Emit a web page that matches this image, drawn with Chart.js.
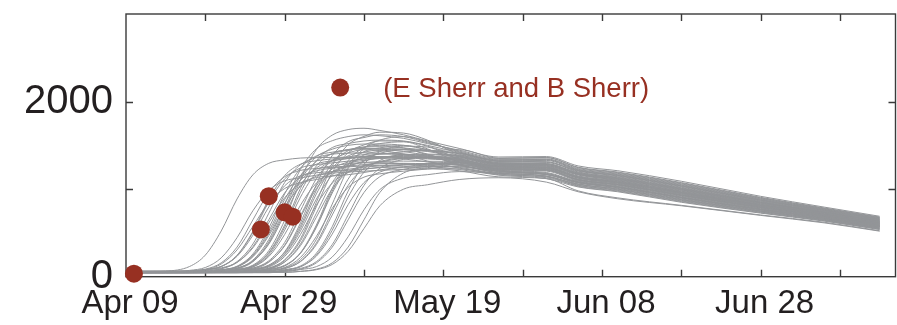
<!DOCTYPE html>
<html>
<head>
<meta charset="utf-8">
<script src="https://cdn.jsdelivr.net/npm/chart.js@4.4.1/dist/chart.umd.min.js"></script>
<style>
  html, body { margin: 0; padding: 0; background: #fff; }
  canvas { display: block; }
</style>
</head>
<body>
<canvas id="chart" width="897" height="325"></canvas>
<script>
// x = days since Apr 09
const DAYS = [0, 5, 8, 10, 12, 14, 16, 18, 20, 22, 24, 26, 28, 30, 32, 35, 38, 42, 47, 53, 57, 62, 70, 80, 88, 95];

// model ensemble runs (grey), one value per entry of DAYS
const RUNS = [
  [50, 63, 116, 247, 522, 888, 1164, 1295, 1334, 1355, 1360, 1362, 1365, 1370, 1372, 1372, 1370, 1360, 1276, 1266, 1160, 1105, 985, 834, 725, 624],
  [50, 50, 72, 105, 215, 446, 754, 985, 1095, 1128, 1160, 1200, 1260, 1320, 1360, 1380, 1360, 1330, 1255, 1245, 1130, 1075, 955, 810, 705, 605],
  [45, 48, 62, 86, 158, 338, 650, 962, 1142, 1214, 1236, 1250, 1265, 1280, 1290, 1295, 1290, 1285, 1211, 1180, 1085, 1030, 910, 774, 675, 576],
  [55, 55, 55, 80, 117, 242, 505, 855, 1117, 1242, 1280, 1300, 1320, 1345, 1365, 1385, 1392, 1390, 1302, 1292, 1190, 1135, 1015, 858, 745, 643],
  [60, 62, 64, 83, 118, 233, 474, 796, 1038, 1153, 1187, 1200, 1215, 1230, 1245, 1255, 1258, 1255, 1185, 1150, 1055, 1000, 880, 750, 655, 557],
  [50, 50, 52, 64, 91, 172, 374, 725, 1076, 1279, 1360, 1400, 1410, 1415, 1410, 1400, 1380, 1345, 1263, 1253, 1145, 1090, 970, 822, 715, 614],
  [65, 66, 68, 81, 101, 164, 329, 615, 901, 1066, 1132, 1150, 1165, 1190, 1220, 1255, 1285, 1300, 1224, 1214, 1100, 1045, 925, 786, 685, 586],
  [50, 50, 50, 52, 78, 120, 260, 554, 946, 1240, 1380, 1422, 1450, 1465, 1465, 1455, 1435, 1405, 1315, 1305, 1205, 1150, 1030, 870, 755, 652],
  [40, 42, 45, 50, 75, 112, 237, 490, 840, 1102, 1227, 1265, 1290, 1305, 1315, 1320, 1318, 1315, 1237, 1227, 1115, 1060, 940, 798, 695, 595],
  [55, 55, 55, 55, 70, 94, 180, 398, 780, 1152, 1370, 1456, 1500, 1515, 1515, 1500, 1450, 1375, 1289, 1279, 1175, 1120, 1000, 846, 735, 633],
  [60, 60, 60, 61, 73, 99, 177, 372, 710, 1048, 1243, 1321, 1350, 1360, 1360, 1345, 1310, 1270, 1198, 1165, 1070, 1015, 895, 762, 665, 567],
  [50, 50, 50, 50, 52, 80, 125, 275, 590, 1010, 1325, 1475, 1520, 1550, 1560, 1550, 1500, 1420, 1328, 1334, 1220, 1165, 1045, 882, 765, 662],
  [45, 45, 45, 46, 49, 72, 113, 248, 531, 909, 1193, 1328, 1368, 1395, 1405, 1400, 1375, 1330, 1250, 1240, 1130, 1075, 955, 810, 705, 605],
  [50, 50, 50, 50, 52, 83, 132, 297, 644, 1106, 1452, 1617, 1680, 1695, 1670, 1620, 1550, 1465, 1367, 1372, 1265, 1210, 1090, 918, 795, 690],
  [55, 55, 55, 55, 55, 69, 97, 181, 391, 755, 1119, 1329, 1413, 1450, 1440, 1400, 1320, 1240, 1172, 1130, 1040, 985, 865, 738, 645, 548],
  [48, 48, 48, 48, 50, 61, 87, 165, 360, 698, 1036, 1231, 1309, 1345, 1355, 1360, 1362, 1366, 1282, 1270, 1168, 1112, 992, 840, 730, 628],
  [50, 50, 50, 50, 50, 52, 81, 128, 285, 615, 1055, 1384, 1541, 1589, 1620, 1600, 1530, 1435, 1341, 1345, 1235, 1180, 1060, 894, 775, 672],
  [60, 60, 60, 60, 60, 61, 89, 133, 278, 582, 988, 1293, 1438, 1481, 1500, 1470, 1390, 1280, 1206, 1170, 1078, 1024, 904, 768, 670, 572],
  [50, 50, 50, 50, 50, 50, 65, 95, 185, 410, 800, 1190, 1415, 1505, 1550, 1545, 1490, 1384, 1296, 1286, 1184, 1128, 1008, 852, 740, 638],
  [45, 45, 45, 45, 45, 46, 59, 86, 168, 374, 725, 1076, 1279, 1360, 1400, 1395, 1360, 1310, 1232, 1222, 1110, 1054, 934, 794, 691, 591],
  [55, 55, 55, 55, 55, 56, 67, 92, 168, 355, 680, 1005, 1193, 1268, 1300, 1290, 1260, 1225, 1159, 1120, 1025, 970, 850, 726, 635, 538],
  [50, 50, 50, 50, 50, 50, 52, 79, 123, 268, 572, 978, 1283, 1428, 1471, 1500, 1450, 1350, 1268, 1260, 1150, 1096, 976, 826, 718, 618],
  [60, 60, 60, 60, 60, 60, 61, 88, 130, 270, 564, 956, 1250, 1390, 1432, 1450, 1440, 1410, 1320, 1312, 1212, 1156, 1036, 874, 760, 656],
  [50, 50, 50, 50, 50, 50, 50, 64, 92, 176, 386, 750, 1114, 1324, 1408, 1450, 1400, 1276, 1204, 1168, 1076, 1022, 902, 768, 670, 571],
  [55, 55, 55, 55, 55, 55, 56, 68, 94, 172, 367, 705, 1043, 1238, 1316, 1350, 1345, 1322, 1240, 1236, 1124, 1066, 946, 802, 698, 598],
  [45, 45, 45, 45, 45, 45, 45, 45, 72, 113, 248, 531, 909, 1193, 1328, 1395, 1400, 1375, 1289, 1279, 1175, 1120, 1000, 846, 735, 633],
  [55, 55, 55, 55, 55, 55, 55, 55, 79, 115, 235, 487, 823, 1075, 1195, 1245, 1240, 1210, 1140, 1120, 980, 900, 815, 705, 622, 525],
  [50, 50, 50, 50, 50, 50, 50, 50, 62, 86, 158, 338, 650, 962, 1142, 1226, 1260, 1306, 1230, 1220, 1108, 1052, 932, 792, 690, 590],
  [60, 60, 60, 60, 60, 60, 60, 60, 60, 82, 115, 225, 456, 764, 995, 1127, 1165, 1200, 1180, 1145, 1055, 1000, 880, 750, 655, 557],
  [50, 50, 50, 50, 50, 50, 50, 50, 50, 60, 80, 140, 290, 550, 810, 1000, 1050, 1110, 1130, 1080, 970, 890, 810, 700, 615, 520],
  [50, 50, 50, 50, 52, 74, 110, 230, 482, 818, 1070, 1190, 1226, 1250, 1265, 1280, 1290, 1294, 1218, 1206, 1092, 1038, 918, 780, 680, 581],
  [55, 55, 55, 55, 55, 57, 81, 120, 250, 523, 887, 1160, 1290, 1329, 1350, 1360, 1358, 1340, 1258, 1248, 1140, 1084, 964, 818, 712, 610],
  [50, 50, 50, 52, 76, 115, 245, 518, 882, 1155, 1285, 1324, 1350, 1375, 1400, 1425, 1440, 1450, 1354, 1362, 1250, 1195, 1075, 906, 785, 681],
  [50, 50, 50, 50, 50, 50, 52, 80, 125, 275, 590, 1010, 1325, 1475, 1520, 1540, 1460, 1310, 1228, 1222, 1104, 1050, 928, 790, 688, 584],
  [45, 45, 45, 46, 59, 87, 171, 381, 745, 1109, 1319, 1403, 1445, 1460, 1455, 1430, 1385, 1336, 1258, 1244, 1136, 1082, 962, 815, 710, 609],
  [55, 55, 55, 55, 55, 55, 55, 70, 101, 195, 427, 830, 1233, 1466, 1560, 1600, 1540, 1426, 1334, 1340, 1226, 1172, 1052, 888, 770, 666],
  [50, 52, 60, 78, 145, 306, 575, 845, 1007, 1075, 1110, 1150, 1200, 1260, 1310, 1350, 1360, 1352, 1270, 1265, 1168, 1098, 978, 828, 720, 619],
  [55, 55, 57, 69, 91, 163, 343, 650, 957, 1137, 1208, 1240, 1255, 1265, 1272, 1278, 1280, 1278, 1205, 1180, 1075, 1022, 902, 770, 672, 572],
  [50, 50, 50, 50, 66, 96, 190, 424, 825, 1226, 1461, 1553, 1600, 1620, 1610, 1580, 1520, 1445, 1350, 1358, 1245, 1188, 1068, 900, 780, 676],
  [60, 60, 60, 60, 60, 74, 98, 170, 352, 680, 1006, 1197, 1269, 1300, 1300, 1290, 1270, 1248, 1178, 1150, 1045, 992, 872, 744, 650, 552],
  [50, 50, 50, 50, 50, 52, 79, 120, 260, 554, 946, 1240, 1380, 1422, 1450, 1455, 1430, 1368, 1282, 1280, 1170, 1112, 992, 840, 730, 628],
  [50, 50, 50, 50, 50, 50, 66, 98, 194, 434, 850, 1266, 1506, 1602, 1650, 1640, 1560, 1398, 1308, 1312, 1196, 1142, 1022, 864, 750, 648],
  [55, 55, 55, 57, 78, 111, 227, 469, 791, 1033, 1148, 1182, 1195, 1205, 1215, 1225, 1230, 1232, 1165, 1140, 1032, 978, 858, 732, 640, 543],
  [50, 50, 50, 50, 50, 50, 50, 50, 78, 123, 268, 572, 978, 1283, 1428, 1490, 1480, 1340, 1256, 1250, 1138, 1082, 962, 816, 710, 610],
  [55, 55, 55, 55, 55, 55, 55, 55, 67, 94, 172, 367, 705, 1043, 1238, 1340, 1370, 1382, 1295, 1290, 1182, 1128, 1008, 852, 740, 638],
  [50, 50, 52, 76, 115, 245, 518, 882, 1155, 1285, 1324, 1345, 1360, 1370, 1372, 1365, 1350, 1325, 1245, 1232, 1128, 1070, 950, 806, 702, 602],
  [45, 45, 45, 45, 45, 45, 47, 70, 105, 220, 460, 780, 1020, 1137, 1175, 1205, 1230, 1262, 1190, 1168, 1060, 1008, 888, 756, 660, 562],
  [50, 50, 50, 50, 53, 78, 121, 265, 565, 965, 1265, 1408, 1452, 1480, 1485, 1470, 1445, 1412, 1322, 1328, 1212, 1158, 1038, 876, 760, 657],
  [50, 50, 50, 50, 50, 51, 74, 110, 230, 482, 818, 1070, 1190, 1226, 1250, 1275, 1295, 1308, 1230, 1215, 1106, 1052, 932, 792, 690, 590],
  [50, 50, 50, 50, 50, 50, 50, 50, 50, 62, 86, 158, 338, 650, 962, 1185, 1245, 1282, 1215, 1190, 1082, 1028, 908, 772, 673, 575]
];

// observations (red dots)
const OBS_DAYS = [1, 17, 18, 20, 21];
const OBS_VALUES = [35, 540, 920, 735, 685];
const OBS_LABEL = '(E Sherr and B Sherr)';

const X_TICK_LABELS = ['Apr 09', 'Apr 29', 'May 19', 'Jun 08', 'Jun 28'];
const Y_TICK_LABELS = ['0', '', '2000'];

const FONT = '"Liberation Sans", Arial, Helvetica, sans-serif';
const GREY = '#939598';
const RED = '#973022';
const INK = '#231f20';
const FRAME = '#3a3a3a';

const datasets = RUNS.map(run => ({
  data: run.map((v, i) => ({ x: DAYS[i], y: v })),
  borderColor: GREY,
  borderWidth: 1,
  pointRadius: 0,
  fill: false,
  cubicInterpolationMode: 'monotone',
  order: 2
}));
datasets.push({
  type: 'scatter',
  data: OBS_DAYS.map((d, i) => ({ x: d, y: OBS_VALUES[i] })),
  backgroundColor: RED,
  borderWidth: 0,
  pointRadius: 9,
  clip: false,
  order: 1
});

// box with inward ticks on all four sides, plus the legend entry inside the plot
const framePlugin = {
  id: 'frame',
  beforeDatasetsDraw(chart) {
    const { ctx, chartArea: a, scales: { x, y } } = chart;
    const len = 7;
    ctx.save();
    ctx.strokeStyle = FRAME;
    ctx.lineWidth = 1.4;
    ctx.strokeRect(a.left, a.top, a.right - a.left, a.bottom - a.top);
    ctx.beginPath();
    x.ticks.forEach(t => {
      if (t.value <= x.min || t.value >= x.max) return;
      const px = Math.round(x.getPixelForValue(t.value)) + 0.5;
      ctx.moveTo(px, a.bottom); ctx.lineTo(px, a.bottom - len);
      ctx.moveTo(px, a.top); ctx.lineTo(px, a.top + len);
    });
    y.ticks.forEach(t => {
      if (t.value <= y.min || t.value >= y.max) return;
      const py = Math.round(y.getPixelForValue(t.value)) + 0.5;
      ctx.moveTo(a.left, py); ctx.lineTo(a.left + len, py);
      ctx.moveTo(a.right, py); ctx.lineTo(a.right - len, py);
    });
    ctx.stroke();
    ctx.restore();
  },
  afterDatasetsDraw(chart) {
    const { ctx, scales: { x, y } } = chart;
    const cx = x.getPixelForValue(27), cy = y.getPixelForValue(2160);
    ctx.save();
    ctx.fillStyle = RED;
    ctx.beginPath();
    ctx.arc(cx, cy, 9, 0, Math.PI * 2);
    ctx.fill();
    ctx.font = '27.5px ' + FONT;
    ctx.textAlign = 'left';
    ctx.textBaseline = 'middle';
    ctx.fillText(OBS_LABEL, cx + 43, cy + 2);
    ctx.restore();
  }
};

new Chart(document.getElementById('chart'), {
  type: 'line',
  data: { datasets },
  options: {
    responsive: false,
    animation: false,
    devicePixelRatio: 1,
    layout: { autoPadding: false, padding: { top: 14, right: 1.5, left: 0, bottom: 0 } },
    plugins: { legend: { display: false }, tooltip: { enabled: false } },
    scales: {
      x: {
        type: 'linear',
        min: 0,
        max: 97,
        afterFit(s) {
          s.height = 48.3;
          s.paddingLeft = 0;
          s.paddingRight = 0;
        },
        grid: { display: false, drawTicks: false },
        border: { display: false },
        ticks: {
          stepSize: 10,
          includeBounds: false,
          autoSkip: false,
          maxRotation: 0,
          padding: 7,
          labelOffset: 4,
          color: INK,
          font: { family: FONT, size: 33 },
          callback: v => (v % 20 === 0 ? X_TICK_LABELS[v / 20] : '')
        }
      },
      y: {
        min: 0,
        max: 3000,
        afterFit(s) {
          s.width = 126;
          s.paddingTop = 0;
          s.paddingBottom = 0;
        },
        grid: { display: false, drawTicks: false },
        border: { display: false },
        ticks: {
          stepSize: 1000,
          padding: 13,
          color: INK,
          font: { family: FONT, size: 40 },
          callback: v => Y_TICK_LABELS[v / 1000] || ''
        }
      }
    }
  },
  plugins: [framePlugin]
});
</script>
</body>
</html>
